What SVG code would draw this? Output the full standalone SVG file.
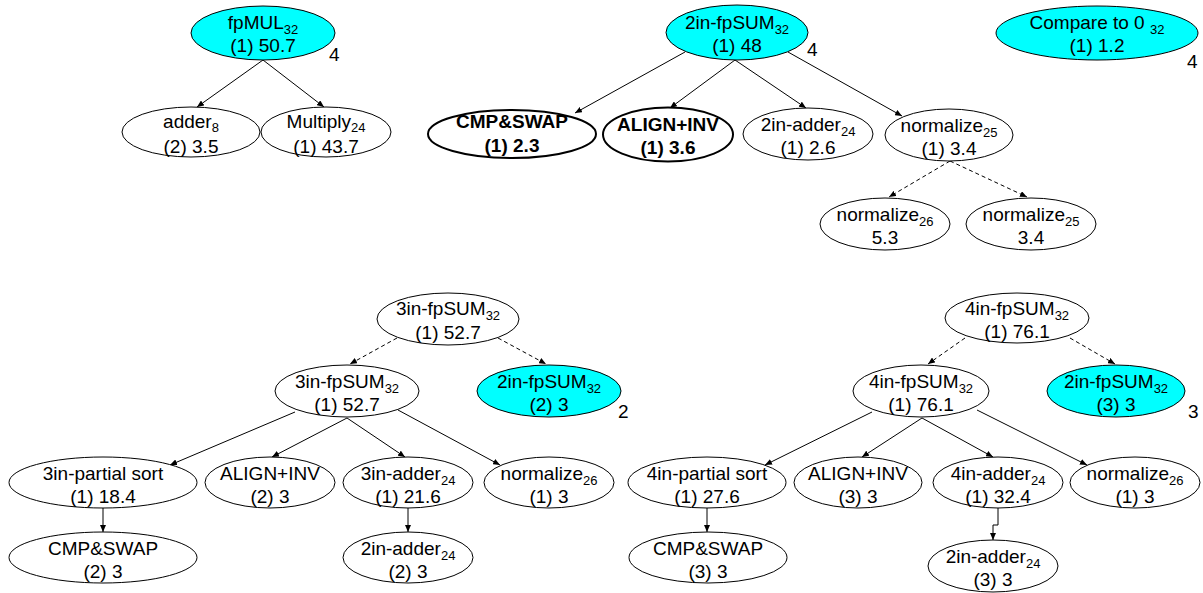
<svg xmlns="http://www.w3.org/2000/svg" width="1203" height="593" viewBox="0 0 1203 593">
<defs>
<marker id="ah" markerWidth="7" markerHeight="6" refX="7" refY="3" orient="auto" markerUnits="userSpaceOnUse">
<path d="M0,0 L7,3 L0,6 z" fill="#000"/>
</marker>
<style>
text{font-family:"Liberation Sans",Arial,sans-serif;font-size:19px;fill:#000;text-anchor:middle}
.sub{font-size:13px}
.lbl{text-anchor:start}
ellipse{stroke:#000;stroke-width:1;fill:#fff}
ellipse.hl{fill:#00ffff}
ellipse.bold{stroke-width:2}
.bt{font-weight:bold}
.c line,.c polyline{stroke:#000;stroke-width:1;fill:none;marker-end:url(#ah)}
.c .d{stroke-dasharray:4,3}
</style>
</defs>
<rect width="1203" height="593" fill="#fff"/>
<g class="c" id="connectors">
<line x1="263" y1="60" x2="197" y2="107"/>
<line x1="263" y1="60" x2="324" y2="107"/>
<line x1="685" y1="52" x2="575" y2="113"/>
<line x1="735" y1="60" x2="670" y2="108"/>
<line x1="735" y1="60" x2="806" y2="108"/>
<line x1="788" y1="52" x2="902" y2="116"/>
<line class="d" x1="950" y1="161" x2="889" y2="197"/>
<line class="d" x1="950" y1="161" x2="1027" y2="197"/>
<line class="d" x1="397" y1="338" x2="350" y2="364"/>
<line class="d" x1="498" y1="338" x2="546" y2="364"/>
<line x1="295" y1="412" x2="170" y2="465"/>
<line x1="347" y1="418" x2="272" y2="457"/>
<line x1="347" y1="418" x2="405" y2="457"/>
<line x1="398" y1="410" x2="500" y2="465"/>
<line x1="103" y1="508" x2="103" y2="532"/>
<line x1="408" y1="508" x2="408" y2="532"/>
<line class="d" x1="965" y1="338" x2="928" y2="364"/>
<line class="d" x1="1070" y1="338" x2="1115" y2="364"/>
<line x1="872" y1="412" x2="765" y2="465"/>
<line x1="922" y1="418" x2="862" y2="457"/>
<line x1="922" y1="418" x2="993" y2="457"/>
<line x1="977" y1="410" x2="1087" y2="465"/>
<line x1="707" y1="508" x2="707" y2="532"/>
<polyline points="998,508 998,525 993,525 993,540"/>
</g>
<g id="fpMUL">
<ellipse class="hl" cx="263" cy="33" rx="72" ry="27"/>
<text x="263" y="29">fpMUL<tspan class="sub" dy="5">32</tspan></text>
<text x="263" y="52">(1) 50.7</text>
<text class="lbl" x="329" y="61">4</text>
</g>
<g id="adder8">
<ellipse cx="191" cy="132" rx="69" ry="25"/>
<text x="191" y="128">adder<tspan class="sub" dy="4">8</tspan></text>
<text x="191" y="153">(2) 3.5</text>
</g>
<g id="multiply24">
<ellipse cx="326" cy="132" rx="65" ry="25"/>
<text x="326" y="128">Multiply<tspan class="sub" dy="4">24</tspan></text>
<text x="326" y="153">(1) 43.7</text>
</g>
<g id="sum2top">
<ellipse class="hl" cx="737" cy="32.5" rx="71" ry="27.5"/>
<text x="737" y="29">2in-fpSUM<tspan class="sub" dy="5">32</tspan></text>
<text x="737" y="52">(1) 48</text>
<text class="lbl" x="807" y="56">4</text>
</g>
<g id="cmpswap1">
<ellipse class="bold" cx="512" cy="134" rx="84" ry="24"/>
<text class="bt" x="512" y="128">CMP&amp;SWAP</text>
<text class="bt" x="512" y="152">(1) 2.3</text>
</g>
<g id="aligninv1">
<ellipse class="bold" cx="668" cy="134.5" rx="65" ry="27"/>
<text class="bt" x="668" y="131">ALIGN+INV</text>
<text class="bt" x="668" y="154">(1) 3.6</text>
</g>
<g id="adder2in1">
<ellipse cx="808" cy="134" rx="65" ry="26"/>
<text x="808" y="131">2in-adder<tspan class="sub" dy="5">24</tspan></text>
<text x="808" y="154">(1) 2.6</text>
</g>
<g id="norm25a">
<ellipse cx="949" cy="135" rx="64" ry="26"/>
<text x="949" y="132">normalize<tspan class="sub" dy="5">25</tspan></text>
<text x="949" y="155">(1) 3.4</text>
</g>
<g id="norm26a">
<ellipse cx="885" cy="224" rx="65" ry="26"/>
<text x="885" y="221">normalize<tspan class="sub" dy="5">26</tspan></text>
<text x="885" y="244">5.3</text>
</g>
<g id="norm25b">
<ellipse cx="1031" cy="224" rx="65" ry="26"/>
<text x="1031" y="221">normalize<tspan class="sub" dy="5">25</tspan></text>
<text x="1031" y="244">3.4</text>
</g>
<g id="cmp0">
<ellipse class="hl" cx="1097" cy="33" rx="101" ry="27"/>
<text x="1097" y="29">Compare to 0 <tspan class="sub" dy="5">32</tspan></text>
<text x="1097" y="52">(1) 1.2</text>
<text class="lbl" x="1187" y="68">4</text>
</g>
<g id="sum3top">
<ellipse cx="448" cy="319" rx="71" ry="26"/>
<text x="448" y="315">3in-fpSUM<tspan class="sub" dy="5">32</tspan></text>
<text x="448" y="339">(1) 52.7</text>
</g>
<g id="sum3mid">
<ellipse cx="347" cy="391" rx="72" ry="26"/>
<text x="347" y="388">3in-fpSUM<tspan class="sub" dy="5">32</tspan></text>
<text x="347" y="411">(1) 52.7</text>
</g>
<g id="sum2b">
<ellipse class="hl" cx="549" cy="391" rx="72" ry="26"/>
<text x="549" y="388">2in-fpSUM<tspan class="sub" dy="5">32</tspan></text>
<text x="549" y="411">(2) 3</text>
<text class="lbl" x="618" y="418">2</text>
</g>
<g id="psort3">
<ellipse cx="103" cy="482.5" rx="94" ry="25.5"/>
<text x="103" y="480">3in-partial sort</text>
<text x="103" y="503">(1) 18.4</text>
</g>
<g id="aligninv2">
<ellipse cx="270" cy="482.5" rx="65" ry="25.5"/>
<text x="270" y="480">ALIGN+INV</text>
<text x="270" y="503">(2) 3</text>
</g>
<g id="adder3in">
<ellipse cx="408" cy="482.5" rx="65" ry="25.5"/>
<text x="408" y="480">3in-adder<tspan class="sub" dy="5">24</tspan></text>
<text x="408" y="503">(1) 21.6</text>
</g>
<g id="norm26b">
<ellipse cx="549" cy="482.5" rx="65" ry="25.5"/>
<text x="549" y="480">normalize<tspan class="sub" dy="5">26</tspan></text>
<text x="549" y="503">(1) 3</text>
</g>
<g id="cmpswap2">
<ellipse cx="103" cy="557.5" rx="94" ry="25.5"/>
<text x="103" y="555">CMP&amp;SWAP</text>
<text x="103" y="578">(2) 3</text>
</g>
<g id="adder2in2">
<ellipse cx="408" cy="557.5" rx="65" ry="25.5"/>
<text x="408" y="555">2in-adder<tspan class="sub" dy="5">24</tspan></text>
<text x="408" y="578">(2) 3</text>
</g>
<g id="sum4top">
<ellipse cx="1017" cy="318" rx="72" ry="25"/>
<text x="1017" y="315">4in-fpSUM<tspan class="sub" dy="5">32</tspan></text>
<text x="1017" y="338">(1) 76.1</text>
</g>
<g id="sum4mid">
<ellipse cx="921" cy="391" rx="68" ry="26"/>
<text x="921" y="388">4in-fpSUM<tspan class="sub" dy="5">32</tspan></text>
<text x="921" y="411">(1) 76.1</text>
</g>
<g id="sum2c">
<ellipse class="hl" cx="1116" cy="391" rx="69" ry="26"/>
<text x="1116" y="388">2in-fpSUM<tspan class="sub" dy="5">32</tspan></text>
<text x="1116" y="411">(3) 3</text>
<text class="lbl" x="1188" y="418">3</text>
</g>
<g id="psort4">
<ellipse cx="707" cy="482.5" rx="79" ry="25.5"/>
<text x="707" y="480">4in-partial sort</text>
<text x="707" y="503">(1) 27.6</text>
</g>
<g id="aligninv3">
<ellipse cx="858" cy="482.5" rx="64" ry="25.5"/>
<text x="858" y="480">ALIGN+INV</text>
<text x="858" y="503">(3) 3</text>
</g>
<g id="adder4in">
<ellipse cx="998" cy="482.5" rx="65" ry="25.5"/>
<text x="998" y="480">4in-adder<tspan class="sub" dy="5">24</tspan></text>
<text x="998" y="503">(1) 32.4</text>
</g>
<g id="norm26c">
<ellipse cx="1135" cy="482.5" rx="65" ry="25.5"/>
<text x="1135" y="480">normalize<tspan class="sub" dy="5">26</tspan></text>
<text x="1135" y="503">(1) 3</text>
</g>
<g id="cmpswap3">
<ellipse cx="708" cy="557.5" rx="79" ry="25.5"/>
<text x="708" y="555">CMP&amp;SWAP</text>
<text x="708" y="578">(3) 3</text>
</g>
<g id="adder2in3">
<ellipse cx="993" cy="566" rx="65" ry="26"/>
<text x="993" y="563">2in-adder<tspan class="sub" dy="5">24</tspan></text>
<text x="993" y="586">(3) 3</text>
</g>
</svg>
